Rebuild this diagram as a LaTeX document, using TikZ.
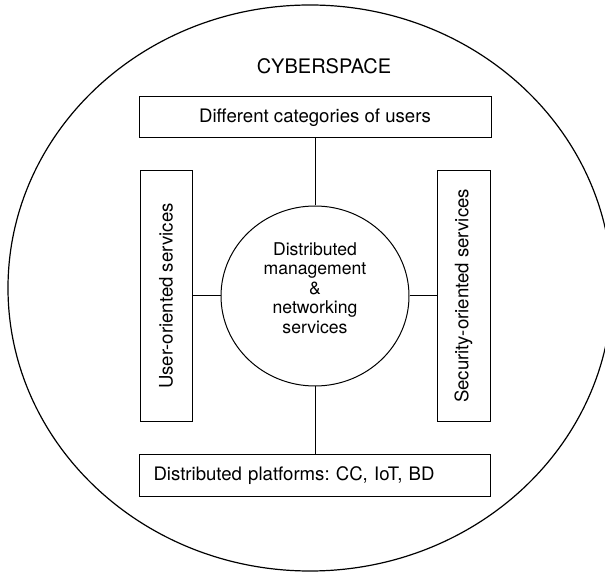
\documentclass[tikz,border=0pt]{standalone}
\usepackage{fontspec}
\setmainfont{TeX Gyre Heros}
\usetikzlibrary{shapes.geometric}
\frenchspacing

\begin{document}
\begin{tikzpicture}[x=1pt,y=1pt,line width=1pt,
    plainbox/.style={draw, rectangle, inner sep=0pt, font=\fontsize{18.6}{22}\selectfont},
    hub/.style={draw, ellipse, minimum width=188pt, minimum height=180pt, inner sep=0pt},
    hubtext/.style={align=center, font=\fontsize{17.6}{19.5}\selectfont, yshift=8pt}]
 %% Ytre ramme: cyberspace
    \useasboundingbox (0,0) rectangle (605,573);
    \draw[line width=1.2pt] (310,285) ellipse [x radius=302, y radius=283];
    \node[anchor=base, font=\fontsize{20}{24}\selectfont] (title) at (324,499) {CYBERSPACE};

 %% Boksene rundt midten
    \node[plainbox, minimum width=352pt, minimum height=41pt] (users) at (315,455.5) {Different categories of users};
    \node[plainbox, rotate=90, minimum width=251pt, minimum height=52pt] (userserv) at (166,277) {User-oriented services};
    \node[plainbox, rotate=90, minimum width=251pt, minimum height=53pt] (secserv) at (463.5,277) {Security-oriented services};
    \node[plainbox, minimum height=42pt, text width=323pt, inner xsep=14pt, align=left] (platforms) at (315,97) {Distributed platforms: CC, IoT, BD};

 %% Sirkelen i midten
    \node[hub, label={[hubtext]center:Distributed\\management\\\&\\networking\\services}] (core) at (315,277) {};

    % linjer mellom boksene og sirkelen
    \draw (users) -- (core);
    \draw (core) -- (platforms);
    \draw (userserv) -- (core);
    \draw (core) -- (secserv);
\end{tikzpicture}
\end{document}
